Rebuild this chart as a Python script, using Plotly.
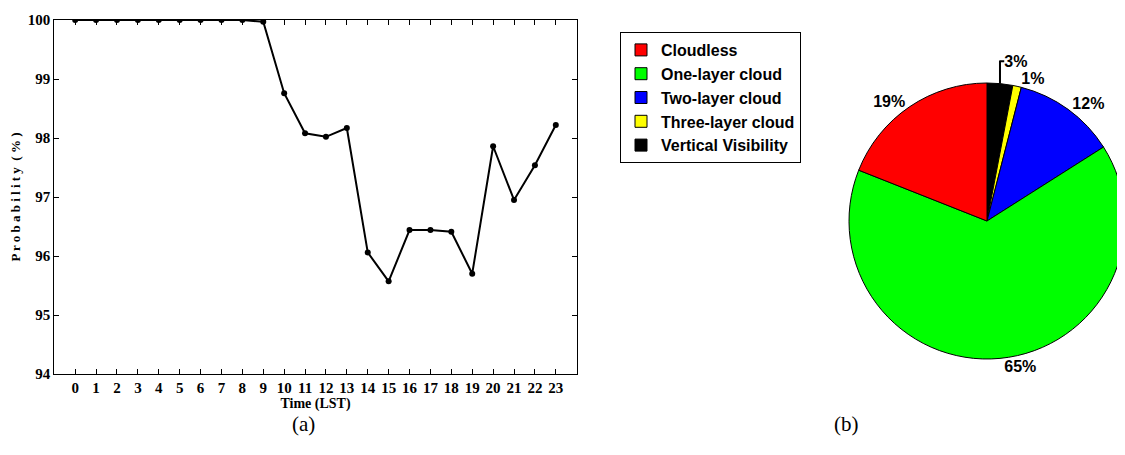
import plotly.graph_objects as go

hours = list(range(24))
probability = [100, 100, 100, 100, 100, 100, 100, 100, 100, 99.97,
               98.76, 98.08, 98.02, 98.17, 96.06, 95.57, 96.44, 96.44,
               96.41, 95.70, 97.86, 96.95, 97.54, 98.22]
y_ticks = [94, 95, 96, 97, 98, 99, 100]

cloud_labels = ["Cloudless", "One-layer cloud", "Two-layer cloud",
                "Three-layer cloud", "Vertical Visibility"]
cloud_share = [19, 65, 12, 1, 3]
cloud_colors = ["#ff0000", "#00ff00", "#0000ff", "#ffff00", "#000000"]

# page body has an 8px default margin: size the figure to fill the rest
OFF = 8
W, H = 1125 - OFF, 455 - OFF
def px(x):
    return (x - OFF) / W
def py(y):
    return 1 - (y - OFF) / H

fig = go.Figure()
fig.add_trace(go.Scatter(
    x=hours, y=probability, mode="lines+markers",
    line=dict(color="black", width=2),
    marker=dict(color="black", size=6),
    showlegend=False, xaxis="x", yaxis="y"))

# drawn clockwise from 12 o'clock in reversed order (= counterclockwise in legend order)
fig.add_trace(go.Pie(
    labels=cloud_labels[::-1], values=cloud_share[::-1], sort=False,
    direction="clockwise", rotation=0,
    marker=dict(colors=cloud_colors[::-1], line=dict(color="black", width=1)),
    texttemplate="%{value}%", textposition="outside",
    textfont=dict(family="Liberation Sans", size=16, color="black", weight="bold"),
    domain=dict(x=[px(849), 1.0], y=[py(411), py(31)]),
    showlegend=True))

tickfont = dict(family="Liberation Serif", size=15, color="black", weight="bold")
titlefont = dict(family="Liberation Serif", size=14, color="black", weight="bold")
fig.update_layout(
    width=W, height=H,
    margin=dict(l=0, r=0, t=0, b=0, autoexpand=False),
    paper_bgcolor="white", plot_bgcolor="white",
    xaxis=dict(domain=[px(54.3), px(576.7)], range=[-1, 24],
               tickvals=hours, ticktext=[str(h) for h in hours],
               ticks="inside", ticklen=5, tickcolor="black", tickwidth=1,
               showline=True, linecolor="black", linewidth=1, mirror="ticks",
               showgrid=False, zeroline=False, tickfont=tickfont, automargin=False,
               title=dict(text="Time (LST)", standoff=2, font=titlefont)),
    yaxis=dict(domain=[py(374), py(20)], range=[94, 100],
               tickvals=y_ticks, ticktext=[str(v) for v in y_ticks],
               ticks="inside", ticklen=5, tickcolor="black", tickwidth=1,
               showline=True, linecolor="black", linewidth=1, mirror="ticks",
               showgrid=False, zeroline=False, tickfont=tickfont, automargin=False,
               title=dict(text="P r o b a b i l i t y  ( % )", standoff=6,
                          font=dict(family="Liberation Serif", size=13, color="black", weight="bold"))),
    legend=dict(x=px(620), y=py(32), xanchor="left", yanchor="top",
                bordercolor="black", borderwidth=1, bgcolor="white",
                font=dict(family="Liberation Sans", size=16, color="black", weight="bold"),
                traceorder="reversed", tracegroupgap=0, itemclick=False),
    annotations=[
        dict(text="(a)", x=px(290), y=py(438), xref="paper", yref="paper",
             showarrow=False, font=dict(family="Liberation Serif", size=21, color="black")),
        dict(text="(b)", x=px(861), y=py(438), xref="paper", yref="paper",
             showarrow=False, font=dict(family="Liberation Serif", size=21, color="black")),
    ],
)

fig.write_html("out.html")
